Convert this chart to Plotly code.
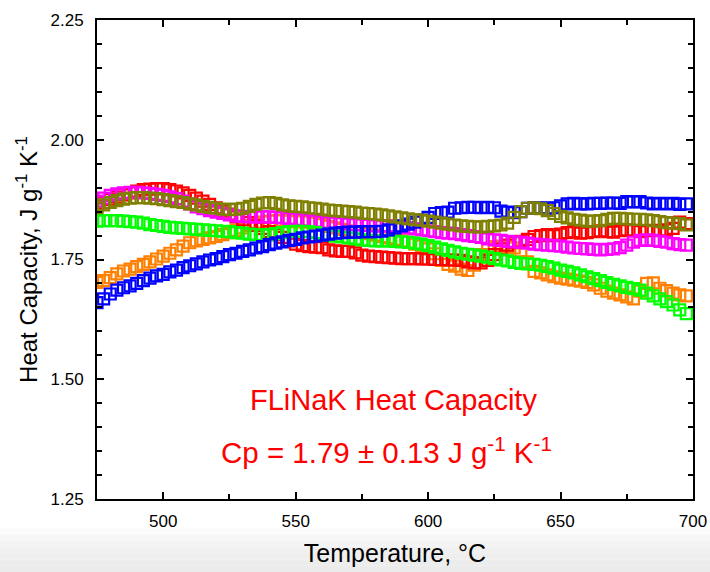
import plotly.graph_objects as go

# Temperature grid (°C), marker every 2.5 °C
temperature = [475 + 2.5 * i for i in range(90)]

blue = [1.660, 1.668, 1.678, 1.686, 1.691, 1.695, 1.700, 1.706,
        1.711, 1.716, 1.719, 1.724, 1.728, 1.733, 1.737, 1.741,
        1.745, 1.749, 1.752, 1.756, 1.760, 1.763, 1.767, 1.770,
        1.774, 1.777, 1.781, 1.784, 1.787, 1.790, 1.792, 1.795,
        1.797, 1.799, 1.801, 1.803, 1.805, 1.806, 1.807, 1.807,
        1.808, 1.808, 1.808, 1.809, 1.812, 1.816, 1.820, 1.824,
        1.828, 1.832, 1.838, 1.846, 1.848, 1.849, 1.857, 1.858,
        1.859, 1.859, 1.858, 1.859, 1.858, 1.851, 1.849, 1.848,
        1.850, 1.857, 1.858, 1.858, 1.857, 1.858, 1.862, 1.866,
        1.867, 1.866, 1.866, 1.867, 1.867, 1.868, 1.868, 1.867,
        1.871, 1.870, 1.871, 1.868, 1.866, 1.867, 1.866, 1.867,
        1.865, 1.866]

orange = [1.702, 1.706, 1.712, 1.720, 1.726, 1.730, 1.735, 1.740,
          1.745, 1.751, 1.757, 1.763, 1.770, 1.778, 1.785, 1.789,
          1.792, 1.795, 1.798, 1.802, 1.806, 1.811, 1.816, 1.821,
          1.825, 1.828, 1.830, 1.831, 1.831, 1.830, 1.829, 1.829,
          1.828, 1.826, 1.823, 1.819, 1.816, 1.813, 1.810, 1.808,
          1.806, 1.804, 1.801, 1.798, 1.795, 1.792, 1.789, 1.786,
          1.782, 1.778, 1.772, 1.762, 1.748, 1.740, 1.736, 1.730,
          1.727, 1.738, 1.760, 1.773, 1.777, 1.778, 1.776, 1.774,
          1.768, 1.745, 1.725, 1.722, 1.718, 1.714, 1.711, 1.709,
          1.707, 1.705, 1.702, 1.697, 1.690, 1.684, 1.680, 1.676,
          1.672, 1.668, 1.684, 1.700, 1.701, 1.690, 1.685, 1.680,
          1.676, 1.674]

red = [1.862, 1.868, 1.875, 1.880, 1.885, 1.889, 1.893, 1.896,
       1.897, 1.898, 1.898, 1.896, 1.893, 1.889, 1.884, 1.878,
       1.872, 1.865, 1.858, 1.851, 1.845, 1.839, 1.833, 1.827,
       1.821, 1.815, 1.808, 1.802, 1.796, 1.789, 1.782, 1.779,
       1.777, 1.776, 1.775, 1.770, 1.768, 1.767, 1.767, 1.764,
       1.759, 1.757, 1.756, 1.755, 1.754, 1.753, 1.752, 1.752,
       1.752, 1.751, 1.751, 1.750, 1.750, 1.749, 1.749, 1.748,
       1.745, 1.743, 1.743, 1.748, 1.760, 1.772, 1.780, 1.785,
       1.788, 1.792, 1.798, 1.800, 1.802, 1.800, 1.803, 1.806,
       1.808, 1.805, 1.806, 1.808, 1.810, 1.808, 1.807, 1.810,
       1.812, 1.810, 1.808, 1.810, 1.811, 1.810, 1.812, 1.815,
       1.828, 1.825]

magenta = [1.872, 1.878, 1.884, 1.887, 1.889, 1.890, 1.890, 1.889,
           1.888, 1.886, 1.884, 1.881, 1.877, 1.872, 1.866, 1.860,
           1.856, 1.852, 1.849, 1.846, 1.843, 1.841, 1.840, 1.839,
           1.839, 1.839, 1.839, 1.838, 1.837, 1.836, 1.834, 1.833,
           1.831, 1.830, 1.828, 1.827, 1.826, 1.825, 1.824, 1.823,
           1.822, 1.821, 1.820, 1.820, 1.820, 1.819, 1.818, 1.816,
           1.814, 1.812, 1.810, 1.808, 1.806, 1.805, 1.804, 1.802,
           1.800, 1.798, 1.796, 1.793, 1.791, 1.790, 1.788, 1.787,
           1.786, 1.784, 1.782, 1.781, 1.780, 1.779, 1.778, 1.776,
           1.774, 1.773, 1.772, 1.771, 1.770, 1.771, 1.772, 1.775,
           1.780, 1.786, 1.790, 1.791, 1.790, 1.788, 1.786, 1.783,
           1.781, 1.780]

green = [1.830, 1.831, 1.831, 1.831, 1.830, 1.829, 1.828, 1.826,
         1.823, 1.821, 1.819, 1.817, 1.816, 1.815, 1.814, 1.813,
         1.812, 1.811, 1.810, 1.809, 1.808, 1.806, 1.805, 1.803,
         1.802, 1.801, 1.802, 1.804, 1.806, 1.808, 1.809, 1.809,
         1.808, 1.806, 1.803, 1.801, 1.799, 1.797, 1.795, 1.793,
         1.791, 1.790, 1.789, 1.789, 1.789, 1.788, 1.787, 1.786,
         1.784, 1.782, 1.779, 1.776, 1.772, 1.769, 1.766, 1.763,
         1.761, 1.759, 1.757, 1.755, 1.752, 1.749, 1.747, 1.744,
         1.742, 1.741, 1.740, 1.738, 1.735, 1.732, 1.728, 1.725,
         1.722, 1.718, 1.714, 1.710, 1.706, 1.702, 1.698, 1.695,
         1.692, 1.689, 1.686, 1.680, 1.674, 1.668, 1.662, 1.655,
         1.645, 1.637]

olive = [1.858, 1.864, 1.869, 1.873, 1.876, 1.878, 1.879, 1.879,
         1.878, 1.877, 1.875, 1.873, 1.871, 1.869, 1.866, 1.864,
         1.861, 1.859, 1.857, 1.855, 1.854, 1.855, 1.857, 1.861,
         1.865, 1.868, 1.869, 1.867, 1.864, 1.862, 1.861, 1.860,
         1.858, 1.857, 1.855, 1.853, 1.852, 1.851, 1.850, 1.849,
         1.847, 1.846, 1.845, 1.843, 1.841, 1.839, 1.837, 1.835,
         1.833, 1.832, 1.830, 1.828, 1.826, 1.824, 1.822, 1.820,
         1.819, 1.818, 1.818, 1.819, 1.820, 1.822, 1.826, 1.838,
         1.850, 1.857, 1.858, 1.856, 1.852, 1.846, 1.840, 1.837,
         1.834, 1.832, 1.830, 1.830, 1.831, 1.834, 1.836, 1.836,
         1.835, 1.834, 1.834, 1.833, 1.831, 1.829, 1.827, 1.826,
         1.825, 1.822]

series = [
    ("Run 2", orange, "#FF8000"),
    ("Run 3", red, "#FF0000"),
    ("Run 4", magenta, "#FF00FF"),
    ("Run 5", green, "#00FF00"),
    ("Run 1", blue, "#0000FF"),
    ("Run 6", olive, "#808000"),
]

fig = go.Figure()
for name, vals, col in series:
    fig.add_trace(go.Scatter(
        x=temperature, y=vals, mode="markers", name=name,
        marker=dict(symbol="square-open", size=11, color=col,
                    line=dict(width=2.2, color=col)),
        showlegend=False, cliponaxis=True))

font_family = "Liberation Sans, Arial, sans-serif"

axis_common = dict(
    showline=True, linecolor="black", linewidth=2, mirror="ticks",
    ticks="inside", ticklen=7, tickwidth=1.5, tickcolor="black",
    showgrid=False, zeroline=False, automargin=False,
    tickfont=dict(family=font_family, size=17, color="black"),
)

fig.update_xaxes(
    range=[475, 700], tick0=500, dtick=50, ticklabelstandoff=6,
    minor=dict(ticks="inside", ticklen=5, tickwidth=1.5, tickcolor="black", dtick=25, tick0=500),
    title=dict(text="Temperature, °C", font=dict(family=font_family, size=25, color="black"), standoff=14),
    **axis_common)
fig.update_yaxes(
    range=[1.25, 2.25], tick0=1.25, dtick=0.25, tickformat=".2f", ticklabelstandoff=8,
    minor=dict(ticks="inside", ticklen=5, tickwidth=1.5, tickcolor="black", dtick=0.05, tick0=1.25),
    title=dict(text="Heat Capacity, J g<sup>-1</sup> K<sup>-1</sup>",
               font=dict(family=font_family, size=24, color="black"), standoff=6),
    **axis_common)

# subtle grey band at the bottom of the page
shades = ["#fbfbfb", "#f7f7f7", "#f3f3f3", "#f0f0f0", "#eeeeee", "#ececec", "#ebebeb"]
y_top_px, y_bot_px = 528, 572
ph = 499 - 20
for i, c in enumerate(shades):
    p0 = y_top_px + (y_bot_px - y_top_px) * i / len(shades)
    p1 = y_top_px + (y_bot_px - y_top_px) * (i + 1) / len(shades)
    fig.add_shape(type="rect", xref="paper", yref="paper",
                  x0=-0.2, x1=1.1, y0=-(p1 - 499) / ph, y1=-(p0 - 499) / ph,
                  fillcolor=c, line=dict(width=0), layer="below")

fig.add_annotation(x=0.498, y=0.207, xref="paper", yref="paper",
                   text="FLiNaK Heat Capacity", showarrow=False, yanchor="middle",
                   font=dict(family=font_family, size=29, color="#FF0000"))
fig.add_annotation(x=0.485, y=0.102, xref="paper", yref="paper",
                   text="Cp = 1.79 ± 0.13 J g<sup>-1</sup> K<sup>-1</sup>", showarrow=False,
                   yanchor="middle",
                   font=dict(family=font_family, size=29.5, color="#FF0000"))

fig.update_layout(
    width=710, height=572,
    margin=dict(l=97, r=17, t=20, b=73),
    paper_bgcolor="white", plot_bgcolor="white",
    font=dict(family=font_family, color="black"),
)

fig.write_html("out.html")
